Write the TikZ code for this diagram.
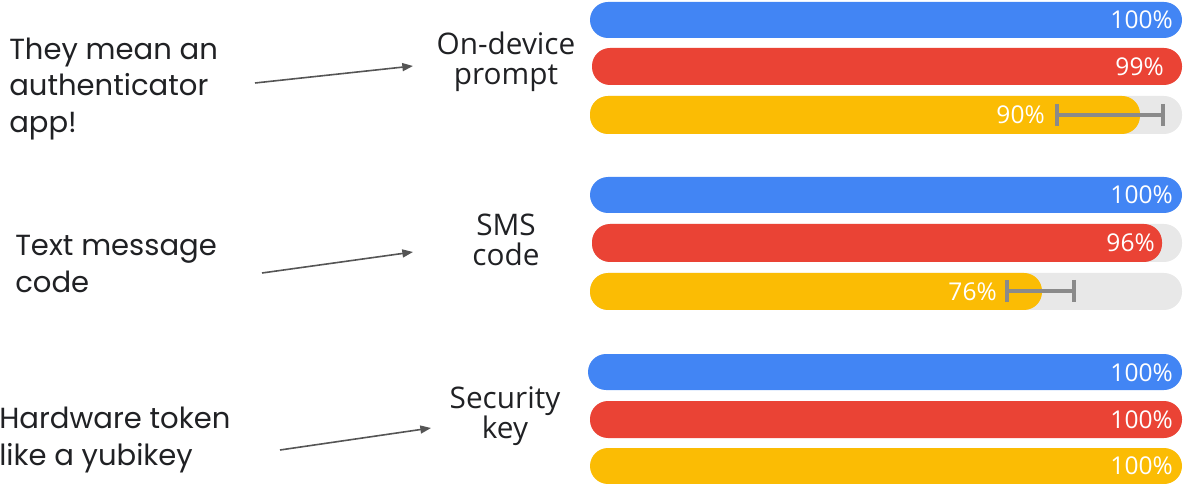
\documentclass[tikz,border=0pt]{standalone}
\usepackage{fontspec}
\setmainfont{Poppins}
\newfontfamily\catfamily{Open Sans}
\usetikzlibrary{arrows.meta}
\definecolor{gblue}{HTML}{4285F4}
\definecolor{gred}{HTML}{EA4335}
\definecolor{gyellow}{HTML}{FBBC04}
\definecolor{trackgray}{HTML}{E8E8E8}
\definecolor{errgray}{HTML}{8A8A8A}
\definecolor{arrowgray}{HTML}{555555}
\definecolor{txt}{HTML}{202124}
\begin{document}
\begin{tikzpicture}[x=0.75pt,y=-0.75pt,
  track/.style={fill=trackgray, rounded corners=13.5pt},
  barfill/.style={fill=#1, rounded corners=13.5pt},
  pct/.style={text=white, font=\catfamily\fontsize{18.4}{20}\selectfont, anchor=east, inner sep=0pt},
  errbar/.style={draw=errgray, line width=2.3pt},
  ann/.style={text=txt, font=\fontsize{21.8}{27.5}\selectfont, align=left, anchor=west, inner sep=0pt},
  cat/.style={text=txt, font=\catfamily\fontsize{22.3}{22.5}\selectfont, align=center, inner sep=0pt},
  arr/.style={draw=arrowgray, line width=1.2pt, -{Triangle[length=8pt,width=6pt]}}]
\useasboundingbox (0,0) rectangle (1184,484);
% ---------- group 1 ----------
\fill[barfill=gblue] (590,2) rectangle (1182,38);
\fill[barfill=gred] (592,48) rectangle (1182,85);
\fill[track] (590,96) rectangle (1182,134);
\fill[barfill=gyellow] (590,96) rectangle (1140,134);
\draw[errbar] (1057,115) -- (1163,115) (1057,104) -- (1057,126) (1163,104) -- (1163,126);
\node[pct] (p1a) at (1173,20) {100\%};
\node[pct] (p1b) at (1164,67) {99\%};
\node[pct] (p1c) at (1045,115) {90\%};
% ---------- group 2 ----------
\fill[barfill=gblue] (590,177) rectangle (1182,213);
\fill[track] (592,224) rectangle (1182,262);
\fill[barfill=gred] (592,224) rectangle (1162,262);
\fill[track] (590,273) rectangle (1182,310);
\fill[barfill=gyellow] (590,273) rectangle (1042,310);
\draw[errbar] (1007,291) -- (1074,291) (1007,280) -- (1007,302) (1074,280) -- (1074,302);
\node[pct] (p2a) at (1173,195) {100\%};
\node[pct] (p2b) at (1155,243) {96\%};
\node[pct] (p2c) at (997,292) {76\%};
% ---------- group 3 ----------
\fill[barfill=gblue] (588,354) rectangle (1182,390);
\fill[barfill=gred] (590,401) rectangle (1182,438);
\fill[barfill=gyellow] (590,448) rectangle (1182,484);
\node[pct] (p3a) at (1173,373) {100\%};
\node[pct] (p3b) at (1173,420) {100\%};
\node[pct] (p3c) at (1173,466) {100\%};
% ---------- category labels ----------
\node[cat] (c1) at (506,62) {On-device\\prompt};
\node[cat] (c2) at (506,240) {SMS\\code};
\node[cat] (c3) at (505,416) {Security\\key};
% ---------- annotations ----------
\node[ann] (t1) at (9,89) {They mean an\\authenticator\\app!};
\node[ann] (t2) at (15,264) {Text message\\code};
\node[ann] (t3) at (-1,440) {Hardware token\\like a yubikey};
% ---------- arrows ----------
\coordinate (a1s) at (255,83); \coordinate (a1e) at (413,66);
\coordinate (a2s) at (262,273); \coordinate (a2e) at (413,252);
\coordinate (a3s) at (280,450); \coordinate (a3e) at (431,428);
\draw[arr] (a1s) -- (a1e);
\draw[arr] (a2s) -- (a2e);
\draw[arr] (a3s) -- (a3e);
\end{tikzpicture}
\end{document}
